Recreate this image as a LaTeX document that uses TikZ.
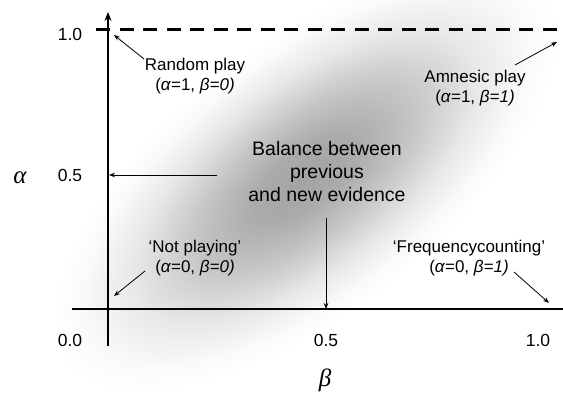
\documentclass[tikz,border=0pt]{standalone}
\usepackage{fontspec}
\setmainfont{Liberation Sans}
\newfontfamily\grkfont{Liberation Serif}
\usetikzlibrary{arrows.meta}
\pgfdeclareradialshading{blob}{\pgfpoint{0bp}{0bp}}{color(0bp)=(black!36); color(5bp)=(black!33); color(11bp)=(black!22); color(17bp)=(black!9); color(22bp)=(black!2); color(25bp)=(white); color(50bp)=(white)}
\tikzset{
  lbl/.style={font=\fontsize{17}{20}\selectfont, align=center, inner sep=0pt},
  tick/.style={font=\fontsize{17.5}{20}\selectfont, inner sep=0pt},
  greek/.style={font=\fontsize{25}{28}\selectfont\grkfont\itshape, inner sep=0pt},
  axis/.style={line width=2.4pt},
  pointer/.style={line width=0.8pt, -{Stealth[length=6pt,width=4.5pt]}},
}
\newcommand{\ga}{\textit{α}}
\newcommand{\gb}{\textit{β}}
\begin{document}
\begin{tikzpicture}[x=1pt,y=-1pt]
\useasboundingbox (0,0) rectangle (563,395);
\fill[white] (0,0) rectangle (563,395);
% shading blob
\begin{scope}[transform canvas={shift={(305,178)}, rotate=38, xscale=2.25}]
  \shade[shading=blob] (0,0) circle (135);
\end{scope}
% axes
\coordinate (vtop) at (108,12);
\coordinate (vbot) at (108,346);
\coordinate (hl) at (72,309);
\coordinate (hr) at (563,309);
\draw[axis, -{Stealth[length=9pt,width=7pt]}] (vbot) -- (vtop);
\draw[axis] (hl) -- (hr);
\coordinate (dl) at (96,30);
\coordinate (dr) at (563,30);
\draw[line width=3pt, dash pattern=on 14pt off 9.5pt] (dl) -- (dr);
% tick labels
\node[tick] (y10) at (70,34) {1.0};
\node[tick] (y05) at (70,175) {0.5};
\node[tick] (x00) at (70,340) {0.0};
\node[tick] (x05) at (326,340) {0.5};
\node[tick] (x10) at (538,340) {1.0};
\node[greek] (alab) at (20,178) {α};
\node[greek] (blab) at (325,380) {β};
% labels (anchor base = baseline of last line)
\node[lbl, anchor=base] (rp) at (195,91) {Random play\\[0pt](\ga=1, \gb\textit{=0)}};
\node[lbl, anchor=base] (ap) at (475,103) {Amnesic play\\[0pt](\ga=1, \gb\textit{=1)}};
\node[lbl, anchor=base, font=\fontsize{19.5}{23}\selectfont] (bal) at (327,202) {Balance between\\previous\\and new evidence};
\node[lbl, anchor=base] (np) at (195,273) {‘Not playing’\\[0pt](\ga=0, \gb\textit{=0)}};
\node[lbl, anchor=base] (fc) at (469,273) {‘Frequencycounting’\\[0pt](\ga=0, \gb\textit{=1)}};
% pointers
\coordinate (rpS) at (144,59);
\coordinate (rpE) at (114,35);
\draw[pointer] (rpS) -- (rpE);
\coordinate (apS) at (515,65);
\coordinate (apE) at (557,42);
\draw[pointer] (apS) -- (apE);
\coordinate (balL) at (217,175);
\coordinate (balLE) at (109,175);
\draw[pointer] (balL) -- (balLE);
\coordinate (balD) at (326,218);
\coordinate (balDE) at (326,309);
\draw[pointer] (balD) -- (balDE);
\coordinate (npS) at (145,271);
\coordinate (npE) at (114,296);
\draw[pointer] (npS) -- (npE);
\coordinate (fcS) at (514,272);
\coordinate (fcE) at (549,303);
\draw[pointer] (fcS) -- (fcE);
\end{tikzpicture}
\end{document}
